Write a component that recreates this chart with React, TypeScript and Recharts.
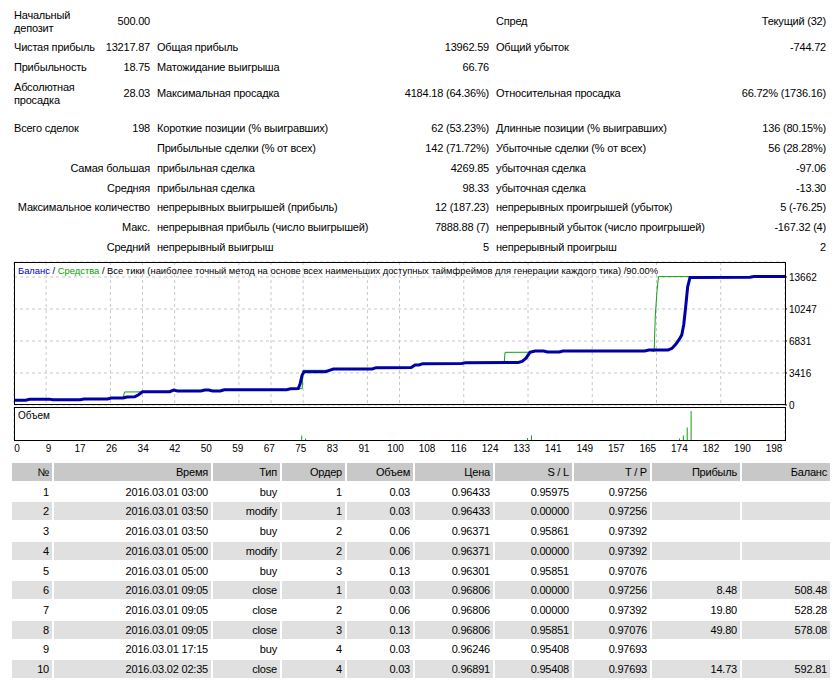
import React from "react";
import {ComposedChart, Line, Bar, XAxis, YAxis, CartesianGrid} from "recharts";

const W = 835;
const FONT = "'Liberation Sans', Arial, sans-serif";

// balance curve, by trade number
const balanceX = [0, 3, 4, 9, 10, 17, 18, 24, 25, 28, 29, 31, 32, 33, 40, 41, 42, 48, 49, 50, 51, 53, 54, 70, 71, 73, 73.5, 74, 74.5, 80, 81, 82, 92, 93, 102, 103, 104, 105, 115, 116, 129.5, 130.5, 131.5, 132.5, 133.8, 136, 137, 140, 141, 162, 163, 168, 169, 170, 171, 171.5, 172, 172.5, 173, 173.6, 189, 190, 198];
const balanceY = [500, 505, 620, 625, 560, 565, 640, 645, 745, 750, 860, 870, 1100, 1410, 1420, 1590, 1500, 1505, 1590, 1595, 1500, 1505, 1630, 1640, 1740, 1760, 2300, 3200, 3550, 3560, 3700, 3840, 3850, 3985, 3990, 4270, 4275, 4410, 4420, 4520, 4530, 4650, 5000, 5620, 5760, 5765, 5660, 5665, 5760, 5770, 5870, 5880, 6050, 6500, 7100, 7500, 8600, 10500, 12600, 13600, 13640, 13718, 13718];

// equity curve
const equityX = [0, 3, 4, 9, 10, 17, 18, 24, 25, 28, 28.4, 33, 34, 40, 41, 42, 48, 49, 50, 51, 53, 54, 70, 71, 74, 74.2, 79.5, 81, 82, 92, 93, 102, 103, 104, 105, 115, 116, 125.9, 126.1, 132.5, 133.8, 136, 137, 140, 141, 162, 163, 164.4, 164.7, 165.1, 165.5, 174, 189, 190, 198];
const equityY = [500, 505, 620, 625, 560, 565, 640, 645, 745, 750, 1390, 1400, 1410, 1420, 1590, 1500, 1505, 1590, 1595, 1500, 1505, 1630, 1640, 1740, 1750, 3700, 3700, 3700, 3840, 3850, 3985, 3990, 4270, 4275, 4410, 4420, 4520, 4530, 5620, 5630, 5760, 5765, 5660, 5665, 5760, 5770, 5870, 5700, 9600, 12000, 13700, 13700, 13640, 13718, 13718];

// volume (lots)
const volumeX = [74, 75, 132, 133, 171, 172, 173, 174];
const volumeY = [0.55, 0.25, 0.3, 0.55, 0.25, 0.55, 1.35, 3.0];

const yTicks = [0, 3416, 6831, 10247, 13662];
const xLabels = ["0", "9", "17", "26", "34", "42", "50", "59", "67", "75", "83", "91", "100", "108", "116", "124", "133", "141", "149", "157", "165", "174", "182", "190", "198"];
const xTicks = xLabels.map((_, i) => (i * 198) / 24);

const balanceData = balanceX.map((x, i) => ({x, v: balanceY[i]}));
const equityData = equityX.map((x, i) => ({x, v: equityY[i]}));
const volumeData = volumeX.map((x, i) => ({x, v: volumeY[i]}));

// report summary
type Cell = [string, number, "l" | "r"];
const statRows: {y: number; cells: Cell[]}[] = [
  {y: 22, cells: [["Начальный\nдепозит", 14, "l"], ["500.00", 150, "r"], ["Спред", 496, "l"], ["Текущий (32)", 826, "r"]]},
  {y: 47.5, cells: [["Чистая прибыль", 14, "l"], ["13217.87", 150, "r"], ["Общая прибыль", 157, "l"], ["13962.59", 489, "r"], ["Общий убыток", 496, "l"], ["-744.72", 826, "r"]]},
  {y: 67.5, cells: [["Прибыльность", 14, "l"], ["18.75", 150, "r"], ["Матожидание выигрыша", 157, "l"], ["66.76", 489, "r"]]},
  {y: 94, cells: [["Абсолютная\nпросадка", 14, "l"], ["28.03", 150, "r"], ["Максимальная просадка", 157, "l"], ["4184.18 (64.36%)", 489, "r"], ["Относительная просадка", 496, "l"], ["66.72% (1736.16)", 826, "r"]]},
  {y: 129, cells: [["Всего сделок", 14, "l"], ["198", 150, "r"], ["Короткие позиции (% выигравших)", 157, "l"], ["62 (53.23%)", 489, "r"], ["Длинные позиции (% выигравших)", 496, "l"], ["136 (80.15%)", 826, "r"]]},
  {y: 149, cells: [["Прибыльные сделки (% от всех)", 157, "l"], ["142 (71.72%)", 489, "r"], ["Убыточные сделки (% от всех)", 496, "l"], ["56 (28.28%)", 826, "r"]]},
  {y: 169, cells: [["Самая большая", 150, "r"], ["прибыльная сделка", 157, "l"], ["4269.85", 489, "r"], ["убыточная сделка", 496, "l"], ["-97.06", 826, "r"]]},
  {y: 188.5, cells: [["Средняя", 150, "r"], ["прибыльная сделка", 157, "l"], ["98.33", 489, "r"], ["убыточная сделка", 496, "l"], ["-13.30", 826, "r"]]},
  {y: 208, cells: [["Максимальное количество", 150, "r"], ["непрерывных выигрышей (прибыль)", 157, "l"], ["12 (187.23)", 489, "r"], ["непрерывных проигрышей (убыток)", 496, "l"], ["5 (-76.25)", 826, "r"]]},
  {y: 228, cells: [["Макс.", 150, "r"], ["непрерывная прибыль (число выигрышей)", 157, "l"], ["7888.88 (7)", 489, "r"], ["непрерывный убыток (число проигрышей)", 496, "l"], ["-167.32 (4)", 826, "r"]]},
  {y: 247.5, cells: [["Средний", 150, "r"], ["непрерывный выигрыш", 157, "l"], ["5", 489, "r"], ["непрерывный проигрыш", 496, "l"], ["2", 826, "r"]]},
];

// trades table
const headers = ["№", "Время", "Тип", "Ордер", "Объем", "Цена", "S / L", "T / P", "Прибыль", "Баланс"];
const tradeNo = ["1", "2", "3", "4", "5", "6", "7", "8", "9", "10"];
const tradeTime = ["2016.03.01 03:00", "2016.03.01 03:50", "2016.03.01 03:50", "2016.03.01 05:00", "2016.03.01 05:00", "2016.03.01 09:05", "2016.03.01 09:05", "2016.03.01 09:05", "2016.03.01 17:15", "2016.03.02 02:35"];
const tradeType = ["buy", "modify", "buy", "modify", "buy", "close", "close", "close", "buy", "close"];
const tradeOrder = ["1", "1", "2", "2", "3", "1", "2", "3", "4", "4"];
const tradeVolume = ["0.03", "0.03", "0.06", "0.06", "0.13", "0.03", "0.06", "0.13", "0.03", "0.03"];
const tradePrice = ["0.96433", "0.96433", "0.96371", "0.96371", "0.96301", "0.96806", "0.96806", "0.96806", "0.96246", "0.96891"];
const tradeSL = ["0.95975", "0.00000", "0.95861", "0.00000", "0.95851", "0.00000", "0.00000", "0.95851", "0.95408", "0.95408"];
const tradeTP = ["0.97256", "0.97256", "0.97392", "0.97392", "0.97076", "0.97256", "0.97392", "0.97076", "0.97693", "0.97693"];
const tradeProfit = ["", "", "", "", "", "8.48", "19.80", "49.80", "", "14.73"];
const tradeBalance = ["", "", "", "", "", "508.48", "528.28", "578.08", "", "592.81"];

const colEdges: [number, number][] = [[12, 52], [54, 211], [213, 280], [282, 345], [347, 413], [415, 493], [495, 572], [574, 650], [652, 740], [742, 830]];

const Txt = ({text, x, align, y}: {text: string; x: number; align: "l" | "r"; y: number}) => {
  const lines = text.split("\n").length;
  const lh = 13.5;
  return (
    <div style={{
      position: "absolute",
      top: y - (lh * lines) / 2,
      left: align === "l" ? x : undefined,
      right: align === "r" ? W - x : undefined,
      textAlign: align === "l" ? "left" : "right",
      lineHeight: `${lh}px`,
      fontSize: 11,
      letterSpacing: -0.2,
      whiteSpace: "pre",
    }}>{text}</div>
  );
};

export default function App() {
  const rows = tradeNo.map((n, i) => [n, tradeTime[i], tradeType[i], tradeOrder[i], tradeVolume[i], tradePrice[i], tradeSL[i], tradeTP[i], tradeProfit[i], tradeBalance[i]]);

  return (
    <div style={{position: "relative", width: W, height: 681, overflow: "hidden", fontFamily: FONT, color: "#000", background: "#fff"}}>
      <style>{`body{margin:0}`}</style>

      {statRows.map((r, ri) => r.cells.map((c, ci) => (
        <Txt key={`${ri}-${ci}`} text={c[0]} x={c[1]} align={c[2]} y={r.y}/>
      )))}

      {/* balance / equity panel */}
      <ComposedChart width={W} height={160} margin={{top: 7, right: 0, bottom: 10, left: 14}}
                     style={{position: "absolute", left: 0, top: 255}}>
        <CartesianGrid stroke="#c8c8c8" strokeDasharray="3 3"/>
        <XAxis type="number" dataKey="x" domain={[0, 198]} ticks={xTicks} hide/>
        <YAxis orientation="right" width={50} domain={[0, 15260]} ticks={yTicks} axisLine={false}
               tickSize={2} tickMargin={2} tickLine={{stroke: "#000"}}
               tick={{fill: "#000", fontSize: 10, fontFamily: FONT, textAnchor: "start"}} interval={0}/>
        <Line data={equityData} dataKey="v" type="linear" stroke="#10a010" strokeWidth={1} dot={false} isAnimationActive={false}/>
        <Line data={balanceData} dataKey="v" type="linear" stroke="#0000a8" strokeWidth={3} dot={false} isAnimationActive={false}/>
      </ComposedChart>
      <div style={{position: "absolute", left: 14, top: 262, width: 772, height: 143, border: "1px solid #000", boxSizing: "border-box", pointerEvents: "none"}}/>
      <div style={{position: "absolute", left: 18, top: 264, fontSize: 9.4, whiteSpace: "pre", lineHeight: "13px"}}>
        <span style={{color: "#0000c0"}}>Баланс</span> / <span style={{color: "#00a000"}}>Средства</span> / Все тики (наиболее точный метод на основе всех наименьших доступных таймфреймов для генерации каждого тика) /90.00%
      </div>

      {/* volume panel */}
      <ComposedChart width={W} height={61} data={volumeData} margin={{top: 7, right: 50, bottom: 0, left: 14}}
                     style={{position: "absolute", left: 0, top: 400}}>
        <CartesianGrid stroke="#c8c8c8" strokeDasharray="3 3" horizontal={false} xAxisId="grid"/>
        <XAxis xAxisId="grid" type="number" dataKey="x" domain={[0, 198]} ticks={xTicks} interval={0}
               height={4} axisLine={false} tick={false} tickSize={3} tickLine={{stroke: "#000"}}/>
        <XAxis xAxisId="labels" type="number" dataKey="x" domain={[0, 198]} ticks={xTicks} interval={0}
               padding={{left: 3, right: 11}} height={16} axisLine={false} tickLine={false} tickSize={0} tickMargin={0}
               tickFormatter={(_v: number, i: number) => xLabels[i]}
               tick={{fill: "#000", fontSize: 10, fontFamily: FONT}}/>
        <YAxis hide domain={[0, 3.4]}/>
        <Bar xAxisId="grid" dataKey="v" fill="#10a010" barSize={1} isAnimationActive={false}/>
      </ComposedChart>
      <div style={{position: "absolute", left: 14, top: 407, width: 772, height: 34, border: "1px solid #000", boxSizing: "border-box", pointerEvents: "none"}}/>
      <div style={{position: "absolute", left: 18, top: 409, fontSize: 10, lineHeight: "13px"}}>Объем</div>

      {/* trades */}
      {[headers, ...rows].map((row, ri) => row.map((t, ci) => {
        const [l, r] = colEdges[ci];
        const bg = ri === 0 ? "#c8c8c8" : ri % 2 === 0 ? "#e0e0e0" : "#fff";
        return (
          <div key={`t${ri}-${ci}`} style={{
            position: "absolute", left: l, top: 463 + ri * 19.7, width: r - l, height: 18,
            background: bg, textAlign: "right", fontSize: 11, letterSpacing: -0.2, lineHeight: "18px",
            paddingRight: 3, boxSizing: "border-box", whiteSpace: "nowrap",
          }}>{t}</div>
        );
      }))}
    </div>
  );
}
